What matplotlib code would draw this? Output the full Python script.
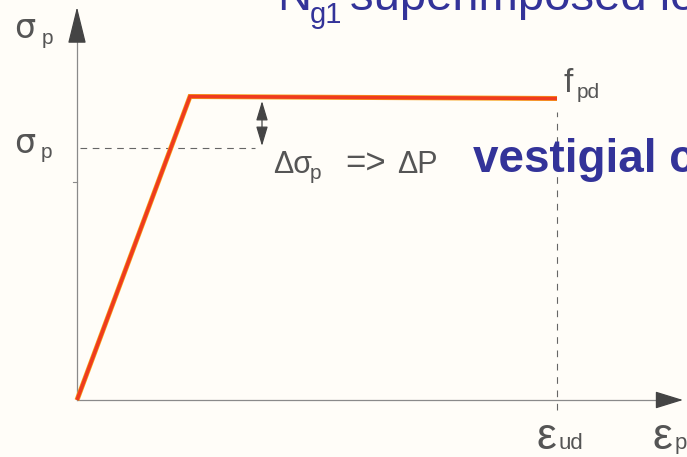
import matplotlib
matplotlib.use("Agg")
import matplotlib.pyplot as plt

# bilinear prestressing steel diagram (diagram units, origin at 0,0)
strain = [0, 113, 480]
stress = [0, 303.5, 301.5]
eps_ud = 480
sigma_p = 252          # stress level after losses
f_pd = 301.5

RED = "#ef3b1f"
GREY = "#555555"
AXIS = "#8a8a8a"
NAVY = "#333399"
FONT = "Liberation Sans"

fig = plt.figure(figsize=(6.87, 4.57), dpi=100)
fig.patch.set_facecolor("#fffdf8")
ax = fig.add_axes([0, 0, 1, 1])
ax.set_xlim(-77, 610)
ax.set_ylim(-57, 400)
ax.axis("off")

# axes with arrowheads
ax.plot([0, 0], [0, 370], color=AXIS, lw=0.9)
ax.annotate("", xy=(0, 393), xytext=(0, 366),
            arrowprops=dict(arrowstyle="-|>,head_length=1.3,head_width=0.32",
                            mutation_scale=18, color="#444444", lw=0.9,
                            shrinkA=0, shrinkB=0))
ax.plot([0, 590], [0, 0], color=AXIS, lw=0.9)
ax.annotate("", xy=(606, 0), xytext=(585, 0),
            arrowprops=dict(arrowstyle="-|>,head_length=1.1,head_width=0.34",
                            mutation_scale=16, color="#444444", lw=0.9,
                            shrinkA=0, shrinkB=0))
ax.plot([-4, 0], [218, 218], color=AXIS, lw=0.8)

# reference lines
ax.plot([3, 178], [sigma_p, sigma_p], color="#666666", lw=0.8, ls=(0, (6, 5)))
ax.plot([eps_ud, eps_ud], [-10, 288], color="#666666", lw=0.8, ls=(0, (6, 6)))

# stress-strain law
ax.plot(strain, stress, color="#f6a21a", lw=3.6, solid_capstyle="butt",
        solid_joinstyle="miter")
ax.plot(strain, stress, color=RED, lw=2.6, solid_capstyle="butt",
        solid_joinstyle="miter")

# stress drop arrow
ax.annotate("", xy=(185, 299), xytext=(185, sigma_p + 2),
            arrowprops=dict(arrowstyle="<|-|>,head_length=1.0,head_width=0.3",
                            mutation_scale=12, color="#444444", lw=0.9,
                            shrinkA=0, shrinkB=0))

# axis labels
ax.text(-63, 362, "σ", fontsize=24, color=GREY, family="DejaVu Sans",
        va="baseline")
ax.text(-35, 356, "p", fontsize=15, color=GREY, family=FONT, va="baseline")
ax.text(-63, 247, "σ", fontsize=24, color=GREY, family="DejaVu Sans",
        va="baseline")
ax.text(-36, 242, "p", fontsize=15, color=GREY, family=FONT, va="baseline")
ax.text(486, 308, "f", fontsize=24, color=GREY, family=FONT, va="baseline")
ax.text(500, 302, "pd", fontsize=15, color=GREY, family=FONT, va="baseline")
ax.text(459, -49, "ε", fontsize=32, color=GREY, family=FONT, va="baseline")
ax.text(482, -49, "ud", fontsize=16, color=GREY, family=FONT, va="baseline")
ax.text(575, -49, "ε", fontsize=32, color=GREY, family=FONT, va="baseline")
ax.text(598, -49, "p", fontsize=16, color=GREY, family=FONT, va="baseline")

ax.text(196, 227, "Δσ", fontsize=22, color=GREY, family=FONT, va="baseline")
ax.text(233, 221, "p", fontsize=15, color=GREY, family=FONT, va="baseline")
ax.text(268, 227, "=>", fontsize=25, color=GREY, family=FONT, va="baseline")
ax.text(320, 227, "ΔP", fontsize=22, color=GREY, family=FONT, va="baseline")

# slide text
ax.text(396, 228, "vestigial c", fontsize=33, color=NAVY, family=FONT,
        weight="bold", va="baseline")
ax.text(200, 390, "N", fontsize=34, color=NAVY, family=FONT, va="baseline")
ax.text(233, 377, "g1", fontsize=21, color=NAVY, family=FONT, va="baseline")
ax.text(273, 390, "superimposed lo", fontsize=34, color=NAVY, family=FONT,
        va="baseline")

fig.savefig("out.png", dpi=100, facecolor=fig.get_facecolor())
